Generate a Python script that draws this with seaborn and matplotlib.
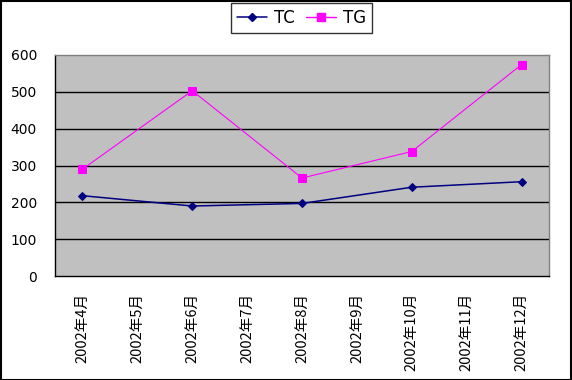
import matplotlib
matplotlib.use("Agg")
import matplotlib.pyplot as plt
import matplotlib.patches as mpatches
from matplotlib.ticker import FixedLocator
from matplotlib.lines import Line2D
import seaborn as sns
import pandas as pd

months = ["2002年4月", "2002年5月", "2002年6月", "2002年7月", "2002年8月",
          "2002年9月", "2002年10月", "2002年11月", "2002年12月"]
data_months = ["2002年4月", "2002年6月", "2002年8月", "2002年10月", "2002年12月"]
tc = [218, 190, 197, 241, 256]
tg = [290, 503, 266, 338, 574]
yticks = [0, 100, 200, 300, 400, 500, 600]

sns.set_theme(style="white")
plt.rcParams['font.family'] = ['Noto Sans CJK JP', 'DejaVu Sans']
plt.rcParams['text.color'] = 'black'
plt.rcParams['xtick.color'] = 'black'
plt.rcParams['ytick.color'] = 'black'

rows = []
for m, a, b in zip(data_months, tc, tg):
    rows.append({"pos": months.index(m), "value": a, "series": "TC"})
    rows.append({"pos": months.index(m), "value": b, "series": "TG"})
df = pd.DataFrame(rows)

fig = plt.figure(figsize=(5.72, 3.80), dpi=100)
fig.patch.set_facecolor("white")
ax = fig.add_axes([55/572, 1 - 276/380, (549-55)/572, (276-55)/380])
ax.set_facecolor("#C0C0C0")

for y in yticks[1:-1]:
    ax.axhline(y, color="black", lw=1.0, zorder=1)

sns.lineplot(data=df[df.series == "TC"], x="pos", y="value", color="#000080",
             marker="D", markersize=4.5, lw=1.1, markeredgecolor="#000080", ax=ax, zorder=3,
             legend=False)
sns.lineplot(data=df[df.series == "TG"], x="pos", y="value", color="#FF00FF",
             marker="s", markersize=6, lw=0.8, markeredgecolor="#FF00FF", ax=ax, zorder=3,
             legend=False)

ax.set_xlim(-0.5, len(months) - 0.5)
ax.set_ylim(0, 600)
ax.set_yticks(yticks)
ax.set_yticklabels([str(v) for v in yticks], fontsize=10, family=['DejaVu Sans'], color="black")
ax.set_xticks(range(len(months)))
ax.set_xticklabels(months, rotation=90, fontsize=10.5, color="black")
ax.xaxis.set_minor_locator(FixedLocator([i + 0.5 for i in range(-1, len(months))]))
ax.tick_params(axis="x", which="major", length=0, pad=12)
ax.tick_params(axis="x", which="minor", length=4, width=1, color="black", direction="out")
ax.tick_params(axis="y", which="major", length=4, width=1, color="black", direction="out", pad=9)
ax.set_xlabel("")
ax.set_ylabel("")

for side in ["top", "right"]:
    ax.spines[side].set_visible(True)
    ax.spines[side].set_color("#808080")
    ax.spines[side].set_linewidth(1)
for side in ["left", "bottom"]:
    ax.spines[side].set_visible(True)
    ax.spines[side].set_color("black")
    ax.spines[side].set_linewidth(1)

handles = [Line2D([], [], color="#000080", marker="D", markersize=4.5, lw=1.1),
           Line2D([], [], color="#FF00FF", marker="s", markersize=6, lw=1.0)]
leg = fig.legend(handles, ["TC", "TG"], loc="center", bbox_to_anchor=(301.5/572, 1 - 18/380),
                 ncol=2, frameon=True, fancybox=False, handlelength=1.8,
                 handletextpad=0.4, columnspacing=0.7, borderpad=0.35, borderaxespad=0,
                 prop={'family': 'DejaVu Sans', 'size': 12}, labelcolor="black")
leg.get_frame().set_edgecolor("black")
leg.get_frame().set_linewidth(1)

fig.add_artist(mpatches.Rectangle((0.001, 0.001), 0.997, 0.996, transform=fig.transFigure,
                                  fill=False, edgecolor="black", lw=1.5))

fig.savefig("out.png", dpi=100)
